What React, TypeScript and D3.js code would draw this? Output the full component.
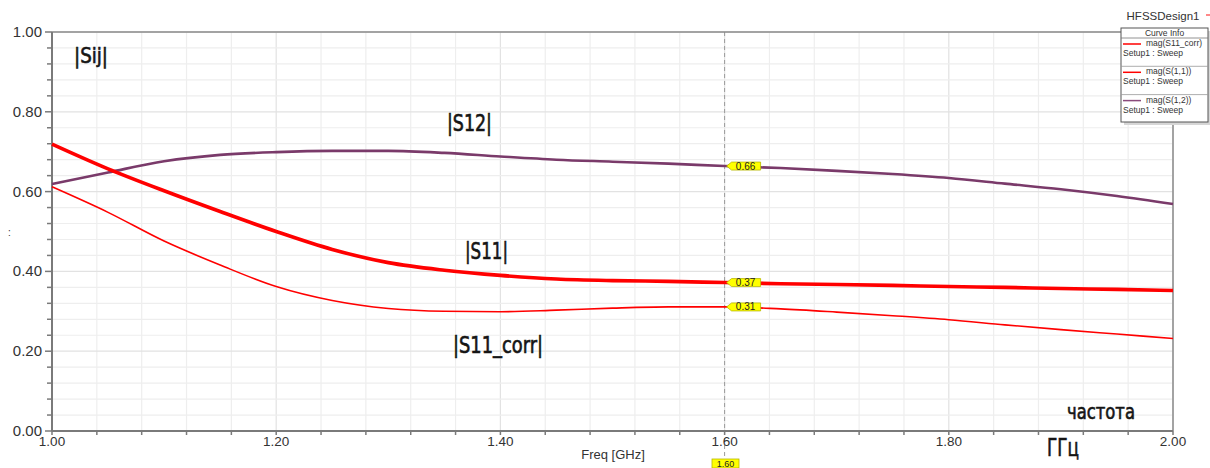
import React from "react";
import * as d3 from "d3";

// frequency samples, GHz
const freqs = [1.0, 1.05, 1.1, 1.15, 1.2, 1.25, 1.3, 1.35, 1.4, 1.45, 1.5, 1.55, 1.6, 1.65, 1.7, 1.75, 1.8, 1.85, 1.9, 1.95, 2.0];

const s12 = [0.619, 0.648, 0.676, 0.692, 0.699, 0.702, 0.702, 0.697, 0.688, 0.68, 0.675, 0.67, 0.664, 0.659, 0.652, 0.644, 0.634, 0.62, 0.606, 0.589, 0.569];
const s11 = [0.719, 0.657, 0.602, 0.55, 0.5, 0.455, 0.422, 0.403, 0.39, 0.381, 0.377, 0.375, 0.372, 0.369, 0.367, 0.365, 0.362, 0.36, 0.357, 0.355, 0.352];
const s11corr = [0.612, 0.548, 0.476, 0.416, 0.362, 0.327, 0.307, 0.3, 0.299, 0.303, 0.308, 0.311, 0.311, 0.306, 0.298, 0.289, 0.279, 0.266, 0.254, 0.243, 0.232];

const xTicks = [1.0, 1.2, 1.4, 1.6, 1.8, 2.0];
const yTicks = [0.0, 0.2, 0.4, 0.6, 0.8, 1.0];

const markerFreq = 1.6;
const markerLabels = ["0.66", "0.37", "0.31"];

const legendItems = [
  { name: "mag(S11_corr)", color: "#ff0000" },
  { name: "mag(S(1,1))", color: "#ff0000" },
  { name: "mag(S(1,2))", color: "#8a4a7c" },
];

const W = 1210;
const H = 468;
const margin = { left: 52, right: 37, top: 32, bottom: 37 };

const App = () => {
  const x = d3.scaleLinear().domain([1, 2]).range([margin.left, W - margin.right]);
  const y = d3.scaleLinear().domain([0, 1]).range([H - margin.bottom, margin.top]);

  const minorX = d3.range(0, 26).map((i) => 1 + i * 0.04);
  const minorY = d3.range(0, 26).map((i) => i * 0.04);

  const line = d3
    .line<number>()
    .x((d, i) => x(freqs[i]))
    .y((d) => y(d))
    .curve(d3.curveMonotoneX);

  const series = [
    { vals: s12, color: "#7a3a6a", width: 2.6 },
    { vals: s11, color: "#ff0000", width: 3.6 },
    { vals: s11corr, color: "#ff0000", width: 1.6 },
  ];

  const mi = freqs.indexOf(markerFreq);
  const mx = x(markerFreq);
  const bottom = y(0);
  const cond = "'Liberation Sans Narrow', 'DejaVu Sans Condensed', 'Roboto', sans-serif";
  const sans = "'Liberation Sans', Arial, sans-serif";

  const lgX = 1121;
  const lgY = 28;
  const lgW = 87;

  const note = (txt: string, tx: number, ty: number, size: number, len: number) => (
    <text
      x={tx}
      y={ty}
      fontFamily={cond}
      fontSize={size}
      textLength={len}
      lengthAdjust="spacingAndGlyphs"
      fill="#151515"
      stroke="#151515"
      strokeWidth={0.6}
    >
      {txt}
    </text>
  );

  return (
    <svg width={W} height={H} style={{ position: "absolute", left: 0, top: 0, background: "#fff" }}>
      {/* grid */}
      <g>
        {minorX.map((v, i) => (
          <line key={"gx" + i} x1={x(v)} x2={x(v)} y1={y(1)} y2={bottom} stroke={i % 5 === 0 ? "#e2e2e2" : "#eeeeee"} strokeWidth={1.2} />
        ))}
        {minorY.map((v, i) => (
          <line key={"gy" + i} x1={x(1)} x2={x(2)} y1={y(v)} y2={y(v)} stroke={i % 5 === 0 ? "#e2e2e2" : "#eeeeee"} strokeWidth={1.2} />
        ))}
      </g>

      {/* marker dashed line */}
      <line x1={mx} x2={mx} y1={y(1)} y2={460} stroke="#9a9a9a" strokeWidth={1} strokeDasharray="4,3" />

      {/* frame */}
      <line x1={x(1)} x2={x(2)} y1={y(1)} y2={y(1)} stroke="#8a8a8a" strokeWidth={1.5} />
      <line x1={x(2)} x2={x(2)} y1={y(1)} y2={bottom} stroke="#8a8a8a" strokeWidth={1.5} />
      <line x1={x(1)} x2={x(2)} y1={bottom} y2={bottom} stroke="#7a7a7a" strokeWidth={2} />
      <line x1={x(1)} x2={x(1)} y1={y(1)} y2={bottom} stroke="#7a7a7a" strokeWidth={2} />

      {/* ticks */}
      {minorY.map((v, i) => (
        <line key={"ty" + i} x1={x(1) - (i % 5 === 0 ? 7 : 5)} x2={x(1)} y1={y(v)} y2={y(v)} stroke="#7a7a7a" strokeWidth={1.5} />
      ))}
      {minorX.map((v, i) => (
        <line key={"tx" + i} x1={x(v)} x2={x(v)} y1={bottom} y2={bottom + 4} stroke="#7a7a7a" strokeWidth={1.5} />
      ))}
      {yTicks.map((v) => (
        <text key={"ly" + v} x={x(1) - 10} y={y(v) + 5} textAnchor="end" fontFamily={sans} fontSize={15} fill="#333">
          {v.toFixed(2)}
        </text>
      ))}
      {xTicks.map((v) => (
        <text key={"lx" + v} x={x(v)} y={446} textAnchor="middle" fontFamily={sans} fontSize={13.5} fill="#333">
          {v.toFixed(2)}
        </text>
      ))}
      <text x={613} y={459} textAnchor="middle" fontFamily={sans} fontSize={13} fill="#333">
        Freq [GHz]
      </text>
      <text x={8} y={236} fontFamily={sans} fontSize={10} fill="#333">:</text>

      {/* curves */}
      {series.map((s, i) => (
        <path key={"s" + i} d={line(s.vals) || ""} fill="none" stroke={s.color} strokeWidth={s.width} strokeLinejoin="round" />
      ))}

      {/* markers */}
      {series.map((s, i) => {
        const my = y(s.vals[mi]);
        const bx = mx + 7;
        return (
          <g key={"m" + i}>
            <path
              d={`M${bx},${my - 4} L${bx + 29},${my - 4} L${bx + 29},${my + 4} L${bx},${my + 4} L${bx - 5},${my} Z`}
              fill="#ffff00"
              stroke="#b8b800"
              strokeWidth={0.8}
            />
            <text x={bx + 14} y={my + 3.5} textAnchor="middle" fontFamily={sans} fontSize={10} fill="#222">
              {markerLabels[i]}
            </text>
          </g>
        );
      })}
      <rect x={712} y={459} width={27} height={9} fill="#ffff00" stroke="#b8b800" strokeWidth={0.8} />
      <text x={725.5} y={467} textAnchor="middle" fontFamily={sans} fontSize={9} fill="#222">1.60</text>

      {/* annotations */}
      {note("|Sij|", 74, 63, 21, 34)}
      {note("|S12|", 447, 131, 23, 45)}
      {note("|S11|", 465, 259, 23, 43)}
      {note("|S11_corr|", 453, 353, 23, 90)}
      {note("частота", 1067, 419, 21, 68)}
      {note("ГГц", 1047, 456, 25, 32)}

      {/* legend */}
      <text x={1163} y={20} textAnchor="middle" fontFamily={sans} fontSize={11.5} fill="#333">HFSSDesign1</text>
      <rect x={lgX + 3} y={lgY + 3} width={lgW} height={94} fill="#d6d6d6" />
      <rect x={lgX} y={lgY} width={lgW} height={94} fill="#fff" stroke="#555" strokeWidth={1} />
      <text x={lgX + lgW / 2} y={lgY + 8} textAnchor="middle" fontFamily={sans} fontSize={8.5} fill="#333">Curve Info</text>
      <line x1={lgX} x2={lgX + lgW} y1={lgY + 10} y2={lgY + 10} stroke="#777" strokeWidth={0.8} />
      {legendItems.map((it, i) => {
        const top = lgY + 10 + i * 28.3;
        return (
          <g key={"lg" + i}>
            <line x1={lgX + 2} x2={lgX + 20} y1={top + 6} y2={top + 6} stroke={it.color} strokeWidth={1.5} />
            <text x={lgX + 25} y={top + 8} fontFamily={sans} fontSize={8.5} fill="#333">{it.name}</text>
            <text x={lgX + 2} y={top + 18} fontFamily={sans} fontSize={8.5} fill="#333">Setup1 : Sweep</text>
            {i < 2 && <line x1={lgX} x2={lgX + lgW} y1={top + 28.3} y2={top + 28.3} stroke="#999" strokeWidth={0.8} />}
          </g>
        );
      })}
      <line x1={1206} x2={1210} y1={15} y2={15} stroke="#ff6060" strokeWidth={1.5} />
    </svg>
  );
};

export default App;
